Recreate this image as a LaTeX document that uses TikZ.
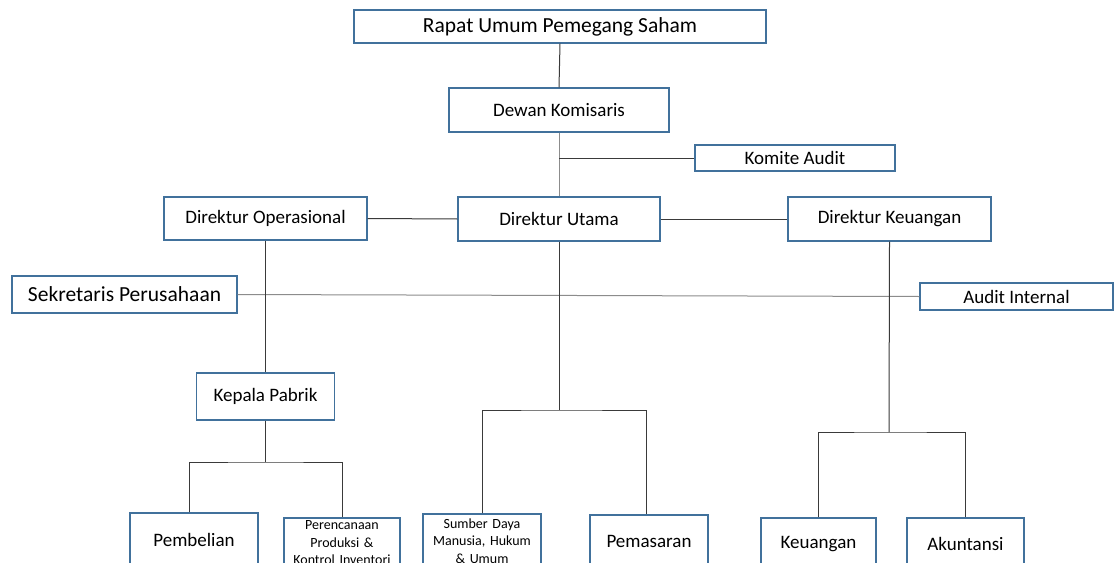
\documentclass[tikz,border=0pt]{standalone}
\usepackage{fontspec}
\setmainfont{Carlito}
\definecolor{boxblue}{HTML}{41719C}
\definecolor{linedark}{HTML}{3A3A3A}
\tikzset{
  box/.style={draw=boxblue, line width=1.1pt, fill=white, rectangle, inner sep=0pt, align=center},
  conn/.style={draw=linedark, line width=1pt},
  connlight/.style={draw=black!45, line width=1pt},
  midtext/.style={font=\fontsize{19}{21}\selectfont},
  bigtext/.style={font=\fontsize{21.5}{23}\selectfont},
  smalltext/.style={font=\fontsize{14}{17.5}\selectfont},
}
\begin{document}
\begin{tikzpicture}[x=1pt,y=-1pt]
\useasboundingbox (0,0) rectangle (1115,562);
\clip (0,0) rectangle (1115,562);
\fill[white] (0,0) rectangle (1115,562);
% top levels
\node[box, bigtext, minimum width=412pt, minimum height=33pt] (rups) at (560,26.5) {Rapat Umum Pemegang Saham};
\node[box, midtext, minimum width=220pt, minimum height=44pt] (dk) at (559,110) {Dewan Komisaris};
\node[box, midtext, minimum width=200pt, minimum height=26pt] (ka) at (795,158) {Komite Audit};
\node[box, midtext, minimum width=203pt, minimum height=43pt] (dop) at (265.5,218.5) {Direktur Operasional};
\node[box, midtext, minimum width=202pt, minimum height=44pt] (du) at (559,219) {Direktur Utama};
\node[box, midtext, minimum width=203pt, minimum height=44pt] (dkeu) at (889.5,219) {Direktur Keuangan};
\node[box, bigtext, minimum width=225pt, minimum height=37pt] (sek) at (124.5,294.5) {Sekretaris Perusahaan};
\node[box, midtext, minimum width=193pt, minimum height=27pt] (ai) at (1016.5,296.5) {Audit Internal};
\node[box, midtext, minimum width=138pt, minimum height=47pt] (kp) at (265.5,396.5) {Kepala Pabrik};
% bottom row
\node[box, midtext, minimum width=128pt, minimum height=54pt] (pemb) at (194,540) {Pembelian};
\node[box, smalltext, minimum width=116pt, minimum height=50pt, text width=112pt] (pren) at (342,543) {Perencanaan\\Produksi \&\\Kontrol Inventori};
\node[box, smalltext, minimum width=118pt, minimum height=54pt, text width=114pt] (sdm) at (482,541) {Sumber Daya\\Manusia, Hukum\\\& Umum};
\node[box, midtext, minimum width=118pt, minimum height=52pt] (pem) at (649,541) {Pemasaran};
\node[box, midtext, minimum width=115pt, minimum height=52pt] (keu) at (818.5,544) {Keuangan};
\node[box, midtext, minimum width=117pt, minimum height=52pt] (akt) at (965.5,544) {Akuntansi};
% junction coordinates
\coordinate (jka) at (559,158);
\coordinate (jkp) at (265.5,462);
\coordinate (jdu) at (559,410);
\coordinate (jkeu) at (889,432);
% connectors
\draw[conn] (rups.south) -- (dk.north);
\draw[connlight] (dk.south) -- (du.north);
\draw[conn] (jka) -- (ka.west);
\draw[conn] (dop.east) -- (du.west);
\draw[conn] (du.east) -- (dkeu.west);
\draw[connlight] (sek.east) -- (ai.west);
\draw[conn] (dop.south) -- (kp.north);
\draw[conn] (kp.south) -- (jkp);
\draw[conn] ([xshift=-5pt]pemb.north) |- (jkp) -| (pren.north);
\draw[conn] (du.south) -- (jdu);
\draw[conn] (sdm.north) |- (jdu) -| ([xshift=-3pt]pem.north);
\draw[conn] (dkeu.south) -- (jkeu);
\draw[conn] (keu.north) |- (jkeu) -| (akt.north);
\end{tikzpicture}
\end{document}
